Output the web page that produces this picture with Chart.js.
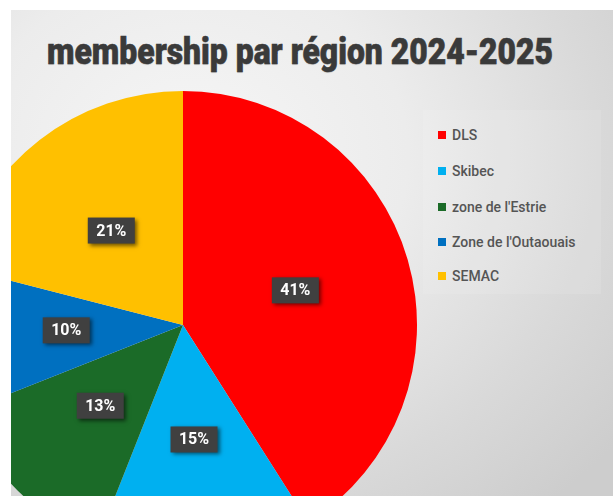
<!DOCTYPE html>
<html>
<head>
<meta charset="utf-8">
<script src="https://cdn.jsdelivr.net/npm/chart.js@4"></script>
<style>
  html, body { margin: 0; padding: 0; background: #ffffff; width: 613px; height: 496px; overflow: hidden; }
  #frame {
    position: absolute; left: 11px; top: 10px; width: 602px; height: 486px; overflow: hidden;
    background: radial-gradient(ellipse 90% 95% at 30% 30%, #f6f6f6 0%, #ececec 40%, #d9d9d9 75%, #cdcdcd 100%);
  }
  #title {
    position: absolute; left: 36px; top: 21px; white-space: nowrap;
    font-family: 'Liberation Sans Narrow', 'Roboto', 'Liberation Sans', sans-serif;
    font-weight: 900; font-size: 36px; color: #3a3a3a; transform-origin: 0 0;
    -webkit-text-stroke: 0.6px #3a3a3a;
    text-shadow: 0 1px 1px rgba(0,0,0,0.15);
  }
  #pieWrap { position: absolute; left: -62px; top: 81px; width: 468px; height: 468px; }
  #legend {
    position: absolute; left: 412px; top: 100px; width: 178px; height: 184px;
    background: rgba(255,255,255,0.10);
  }
  .item { position: absolute; left: 15px; height: 18px; font-family: 'Roboto', 'Liberation Sans', sans-serif;
          font-size: 14px; font-weight: 500; color: #555555; white-space: nowrap; line-height: 18px; }
  .sw { display: inline-block; width: 8px; height: 8px; margin-right: 6px; vertical-align: 1px; }
</style>
</head>
<body>
<div id="frame">
  <div id="title">membership par région 2024-2025</div>
  <div id="pieWrap"><canvas id="c" width="468" height="468"></canvas></div>
  <div id="legend"></div>
</div>
<script>
const chartTitle = 'membership par région 2024-2025';
const categories = ['DLS', 'Skibec', "zone de l'Estrie", "Zone de l'Outaouais", 'SEMAC'];
const values = [41, 15, 13, 10, 21];
const colors = ['#ff0000', '#00b0f0', '#1b6b28', '#0070c0', '#ffc000'];

// title scaling to match width
const t = document.getElementById('title');
t.textContent = chartTitle;
const tw = t.getBoundingClientRect().width;
t.style.transform = 'scaleX(' + (506 / tw) + ')';

// legend
const lg = document.getElementById('legend');
const legendTops = [16, 52, 88, 123, 157];
categories.forEach((c, i) => {
  const d = document.createElement('div');
  d.className = 'item';
  d.style.top = legendTops[i] + 'px';
  const s = document.createElement('span');
  s.className = 'sw';
  s.style.background = colors[i];
  d.appendChild(s);
  d.appendChild(document.createTextNode(c));
  lg.appendChild(d);
});

const total = values.reduce((a, b) => a + b, 0);

const labelPlugin = {
  id: 'boxLabels',
  afterDatasetsDraw(chart) {
    const ctx = chart.ctx;
    const meta = chart.getDatasetMeta(0);
    ctx.save();
    ctx.font = 'bold 16px Roboto, "Liberation Sans", sans-serif';
    ctx.textAlign = 'center';
    ctx.textBaseline = 'middle';
    meta.data.forEach((arc, i) => {
      const p = arc.tooltipPosition();
      const txt = Math.round(values[i] / total * 100) + '%';
      const w = 47, h = 26;
      const cy = p.y - 2;
      ctx.save();
      ctx.shadowColor = 'rgba(0,0,0,0.55)';
      ctx.shadowBlur = 4;
      ctx.shadowOffsetX = 2;
      ctx.shadowOffsetY = 2;
      ctx.fillStyle = '#404040';
      ctx.fillRect(p.x - w / 2, cy - h / 2, w, h);
      ctx.restore();
      ctx.fillStyle = '#ffffff';
      ctx.fillText(txt, p.x, cy + 1);
    });
    ctx.restore();
  }
};

new Chart(document.getElementById('c'), {
  type: 'pie',
  data: {
    labels: categories,
    datasets: [{ data: values, backgroundColor: colors, borderWidth: 0 }]
  },
  options: {
    responsive: false,
    animation: false,
    layout: { padding: 0 },
    plugins: { legend: { display: false }, tooltip: { enabled: false }, title: { display: false } }
  },
  plugins: [labelPlugin]
});
</script>
</body>
</html>
